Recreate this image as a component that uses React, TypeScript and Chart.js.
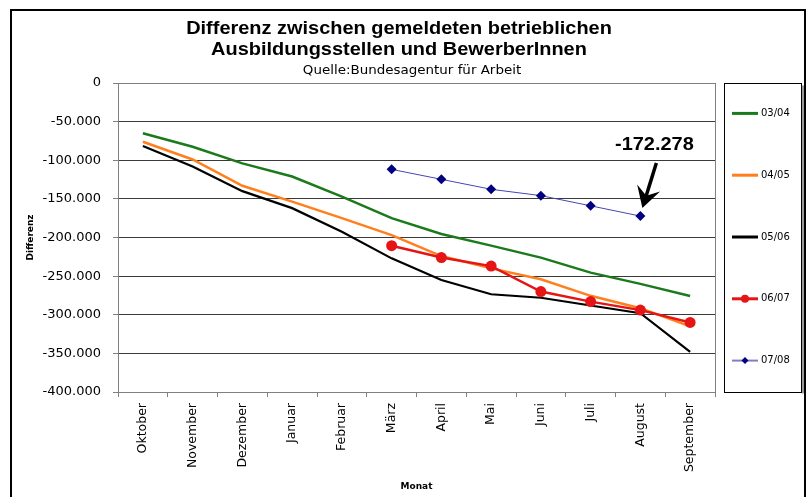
import React, { useEffect, useRef } from 'react';
import { Chart, registerables } from 'chart.js';

Chart.register(...registerables);

const months = ['Oktober', 'November', 'Dezember', 'Januar', 'Februar', 'März', 'April', 'Mai', 'Juni', 'Juli', 'August', 'September'];
const seriesNames = ['03/04', '04/05', '05/06', '06/07', '07/08'];

const v0304 = [-65000, -82500, -104000, -121000, -147000, -175000, -195500, -210500, -226000, -245500, -260000, -275700];
const v0405 = [-76000, -99000, -133000, -153500, -175000, -197000, -224000, -240000, -254000, -275500, -291500, -315000];
const v0506 = [-81500, -108000, -140000, -162000, -192500, -227000, -255000, -273500, -278000, -288000, -298000, -348000];
const v0607 = [null, null, null, null, null, -210600, -226000, -237000, -270000, -283000, -294000, -310000];
const v0708 = [null, null, null, null, null, -111800, -124700, -137600, -145800, -159000, -172278, null];

const yMin = -400000;
const yMax = 0;
const yStep = 50000;

const titleLines = ['Differenz zwischen gemeldeten betrieblichen', 'Ausbildungsstellen und BewerberInnen'];
const subtitle = 'Quelle:Bundesagentur für Arbeit';
const yTitle = 'Differenz';
const xTitle = 'Monat';
const annotationIndex = 10;
const annotationValue = -172278;

const colors = ['#1b7a1b', '#ff7f1e', '#000000', '#e51515', '#000080'];

function fmt(n: number): string {
  const s = Math.abs(n).toString().replace(/\B(?=(\d{3})+(?!\d))/g, '.');
  return (n < 0 ? '-' : '') + s;
}

function drawText(ctx: CanvasRenderingContext2D, text: string, x: number, y: number, font: string, sx: number) {
  ctx.save();
  ctx.translate(x, y);
  ctx.scale(sx, 1);
  ctx.font = font;
  ctx.textAlign = 'center';
  ctx.textBaseline = 'middle';
  ctx.fillStyle = '#000';
  ctx.fillText(text, 0, 0);
  ctx.restore();
}

const decor = {
  id: 'decor',
  afterDraw(chart: any) {
    const { ctx, chartArea: ca, scales } = chart;
    ctx.save();
    // outer frame
    ctx.strokeStyle = '#000';
    ctx.lineWidth = 2;
    ctx.beginPath();
    ctx.moveTo(11, 497);
    ctx.lineTo(11, 10);
    ctx.lineTo(805, 10);
    ctx.lineTo(805, 497);
    ctx.stroke();

    // plot right border
    ctx.strokeStyle = '#808080';
    ctx.lineWidth = 1;
    ctx.beginPath();
    ctx.moveTo(ca.right + 0.5, ca.top);
    ctx.lineTo(ca.right + 0.5, ca.bottom);
    ctx.stroke();

    // titles
    drawText(ctx, titleLines[0], 399, 29, 'bold 19px "Liberation Sans"', 1.05);
    drawText(ctx, titleLines[1], 399, 50, 'bold 19px "Liberation Sans"', 1.05);
    drawText(ctx, subtitle, 412, 71, '12px "DejaVu Sans"', 1.12);

    // legend
    const lx = 724.5, ly = 83.5, lw = 77, lh = 309;
    ctx.fillStyle = '#fff';
    ctx.fillRect(lx, ly, lw, lh);
    ctx.strokeStyle = '#999';
    ctx.lineWidth = 2;
    ctx.beginPath();
    ctx.moveTo(lx + lw + 1.5, ly + 2);
    ctx.lineTo(lx + lw + 1.5, ly + lh + 1);
    ctx.stroke();
    ctx.strokeStyle = '#000';
    ctx.lineWidth = 1;
    ctx.strokeRect(lx, ly, lw, lh);
    const step = lh / seriesNames.length;
    seriesNames.forEach((name, i) => {
      const cy = ly + step * (i + 0.5) - 1;
      ctx.strokeStyle = i === 4 ? '#7f7fc4' : colors[i];
      ctx.lineWidth = i === 4 ? 2 : 3;
      ctx.beginPath();
      ctx.moveTo(732, cy);
      ctx.lineTo(758, cy);
      ctx.stroke();
      if (i === 3) {
        ctx.fillStyle = colors[3];
        ctx.beginPath();
        ctx.arc(745, cy, 4, 0, Math.PI * 2);
        ctx.fill();
      }
      if (i === 4) {
        ctx.fillStyle = colors[4];
        ctx.beginPath();
        ctx.moveTo(745, cy - 3.5);
        ctx.lineTo(748.5, cy);
        ctx.lineTo(745, cy + 3.5);
        ctx.lineTo(741.5, cy);
        ctx.closePath();
        ctx.fill();
      }
      ctx.fillStyle = '#000';
      ctx.font = '10px "DejaVu Sans"';
      ctx.textAlign = 'left';
      ctx.textBaseline = 'middle';
      ctx.fillText(name, 761, cy);
    });

    // annotation
    const px = scales.x.getPixelForValue(annotationIndex);
    const py = scales.y.getPixelForValue(annotationValue);
    drawText(ctx, fmt(annotationValue), px + 14, py - 71, 'bold 19px "Liberation Sans"', 1.05);
    const tx = px + 2, ty = py - 8;
    const sx = px + 16, sy = py - 53;
    const ang = Math.atan2(ty - sy, tx - sx);
    const ux = Math.cos(ang), uy = Math.sin(ang);
    const nx = -uy, ny = ux;
    ctx.strokeStyle = '#000';
    ctx.lineWidth = 3.5;
    ctx.beginPath();
    ctx.moveTo(sx, sy);
    ctx.lineTo(tx - ux * 10, ty - uy * 10);
    ctx.stroke();
    ctx.fillStyle = '#000';
    ctx.beginPath();
    ctx.moveTo(tx, ty);
    ctx.lineTo(tx - ux * 21 + nx * 12, ty - uy * 21 + ny * 12);
    ctx.lineTo(tx - ux * 13, ty - uy * 13);
    ctx.lineTo(tx - ux * 21 - nx * 12, ty - uy * 21 - ny * 12);
    ctx.closePath();
    ctx.fill();

    ctx.restore();
  },
};

export default function App() {
  const ref = useRef<HTMLCanvasElement>(null);

  useEffect(() => {
    if (!ref.current) return;
    const chart = new Chart(ref.current, {
      type: 'line',
      data: {
        labels: months,
        datasets: [
          { label: seriesNames[0], data: v0304, borderColor: colors[0], borderWidth: 2.5, pointRadius: 0, tension: 0, order: 5 },
          { label: seriesNames[1], data: v0405, borderColor: colors[1], borderWidth: 2.5, pointRadius: 0, tension: 0, order: 4 },
          { label: seriesNames[2], data: v0506, borderColor: colors[2], borderWidth: 2.2, pointRadius: 0, tension: 0, order: 3 },
          {
            label: seriesNames[3], data: v0607, borderColor: colors[3], borderWidth: 2.5, tension: 0, order: 2,
            pointStyle: 'circle', pointRadius: 5.5, pointBackgroundColor: colors[3], pointBorderColor: colors[3], pointBorderWidth: 0,
          },
          {
            label: seriesNames[4], data: v0708, borderColor: '#4646b4', borderWidth: 1, tension: 0, order: 1,
            pointStyle: 'rectRot', pointRadius: 5, pointBackgroundColor: colors[4], pointBorderColor: colors[4], pointBorderWidth: 0,
          },
        ],
      },
      options: {
        responsive: false,
        animation: false,
        devicePixelRatio: 1,
        layout: { padding: { left: 0, top: 83, right: 91, bottom: 0 } },
        plugins: { legend: { display: false }, tooltip: { enabled: false }, title: { display: false } },
        scales: {
          x: {
            type: 'category',
            offset: true,
            grid: { offset: true, drawOnChartArea: false, drawTicks: true, tickLength: 5, tickColor: '#808080' },
            border: { display: true, color: '#808080', width: 1 },
            ticks: {
              autoSkip: false, minRotation: 90, maxRotation: 90, padding: 6, color: '#000',
              font: { family: 'DejaVu Sans', size: 12.5 },
            },
            title: {
              display: true, text: xTitle, color: '#000',
              font: { family: 'DejaVu Sans', size: 9, weight: 'bold' }, padding: { top: 0, bottom: 4.6 },
            },
            afterFit: (s: any) => { s.height = 105; },
          },
          y: {
            min: yMin,
            max: yMax,
            ticks: {
              stepSize: yStep, padding: 12, color: '#000',
              font: { family: 'DejaVu Sans', size: 13 },
              callback: (v: any) => fmt(Number(v)),
            },
            grid: {
              color: (c: any) => (c.tick && c.tick.value === 0 ? '#808080' : '#3a3a3a'),
              lineWidth: 1, drawTicks: true, tickLength: 5, tickColor: '#808080',
            },
            border: { display: true, color: '#808080', width: 1 },
            title: {
              display: true, text: yTitle, color: '#000',
              font: { family: 'DejaVu Sans', size: 9, weight: 'bold' }, padding: { top: 25.6, bottom: 0 },
            },
            afterFit: (s: any) => { s.width = 118; },
          },
        },
      },
      plugins: [decor],
    });
    return () => chart.destroy();
  }, []);

  return (
    <div style={{ position: 'absolute', left: 0, top: 0, width: 806, height: 497, background: '#fff' }}>
      <canvas ref={ref} width={806} height={497} style={{ display: 'block' }} />
    </div>
  );
}
